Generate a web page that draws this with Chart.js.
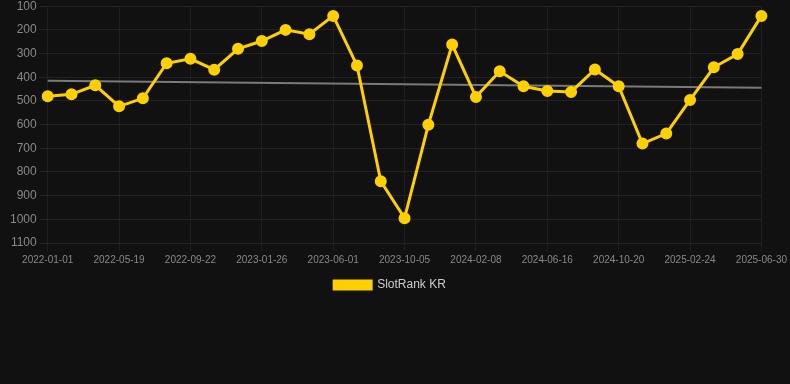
<!DOCTYPE html>
<html>
<head>
<meta charset="utf-8">
<script src="https://cdn.jsdelivr.net/npm/chart.js@4.4.0/dist/chart.umd.min.js"></script>
<style>
html,body{margin:0;padding:0;background:#111111;overflow:hidden;}
#wrap{position:relative;width:790px;height:305px;margin-top:-4px;}
</style>
</head>
<body>
<div id="wrap"><canvas id="c"></canvas></div>
<script>
const categories = [
  "2022-01-01","2022-02-16","2022-04-03","2022-05-19","2022-06-30","2022-08-11",
  "2022-09-22","2022-11-03","2022-12-15","2023-01-26","2023-03-09","2023-04-20",
  "2023-06-01","2023-07-13","2023-08-24","2023-10-05","2023-11-16","2023-12-28",
  "2024-02-08","2024-03-22","2024-05-04","2024-06-16","2024-07-28","2024-09-08",
  "2024-10-20","2024-12-01","2025-01-12","2025-02-24","2025-04-07","2025-05-19",
  "2025-06-30"
];
const slotRankKR = [
  480, 472, 434, 523, 489, 341, 322, 368, 280, 247, 200, 218,
  141, 350, 839, 995, 601, 262, 483, 375, 438, 458, 462, 367,
  438, 680, 638, 496, 358, 302, 141
];
const trendStart = 415;
const trendEnd = 444;
const trend = categories.map((_, i) => i === 0 ? trendStart : (i === categories.length - 1 ? trendEnd : null));
const yTicks = [100,200,300,400,500,600,700,800,900,1000,1100];

new Chart(document.getElementById('c'), {
  type: 'line',
  data: {
    labels: categories,
    datasets: [
      {
        label: 'SlotRank KR',
        data: slotRankKR,
        borderColor: '#FFD000',
        backgroundColor: '#FFD000',
        borderWidth: 3,
        pointRadius: 4.5,
        pointHoverRadius: 6,
        tension: 0
      },
      {
        label: 'trend',
        data: trend,
        borderColor: '#7a7a7a',
        borderWidth: 2,
        pointRadius: 0,
        spanGaps: true,
        fill: false
      }
    ]
  },
  options: {
    responsive: true,
    maintainAspectRatio: false,
    animation: false,
    layout: { padding: { left: 0, right: 10, top: 0, bottom: 0 } },
    plugins: {
      legend: {
        position: 'bottom',
        labels: {
          color: '#cccccc',
          font: { family: 'Arial, Liberation Sans, sans-serif', size: 12 },
          boxWidth: 37,
          boxHeight: 8,
          filter: (item) => item.text === 'SlotRank KR'
        }
      },
      tooltip: { enabled: false }
    },
    scales: {
      x: {
        ticks: {
          color: '#888888',
          font: { family: 'Arial, Liberation Sans, sans-serif', size: 10 },
          maxRotation: 0,
          autoSkip: false,
          callback: function(v, i) { return i % 3 === 0 ? categories[i] : null; }
        },
        grid: { color: '#1f1f1f' },
        border: { display: false }
      },
      y: {
        reverse: true,
        min: 100,
        max: 1100,
        afterBuildTicks: (axis) => { axis.ticks = yTicks.map(v => ({ value: v })); },
        afterFit: (axis) => { axis.width += 7; },
        ticks: {
          color: '#888888',
          font: { family: 'Arial, Liberation Sans, sans-serif', size: 12 },
          callback: (v) => String(v)
        },
        grid: { color: '#222222' },
        border: { display: false }
      }
    }
  }
});
</script>
</body>
</html>
